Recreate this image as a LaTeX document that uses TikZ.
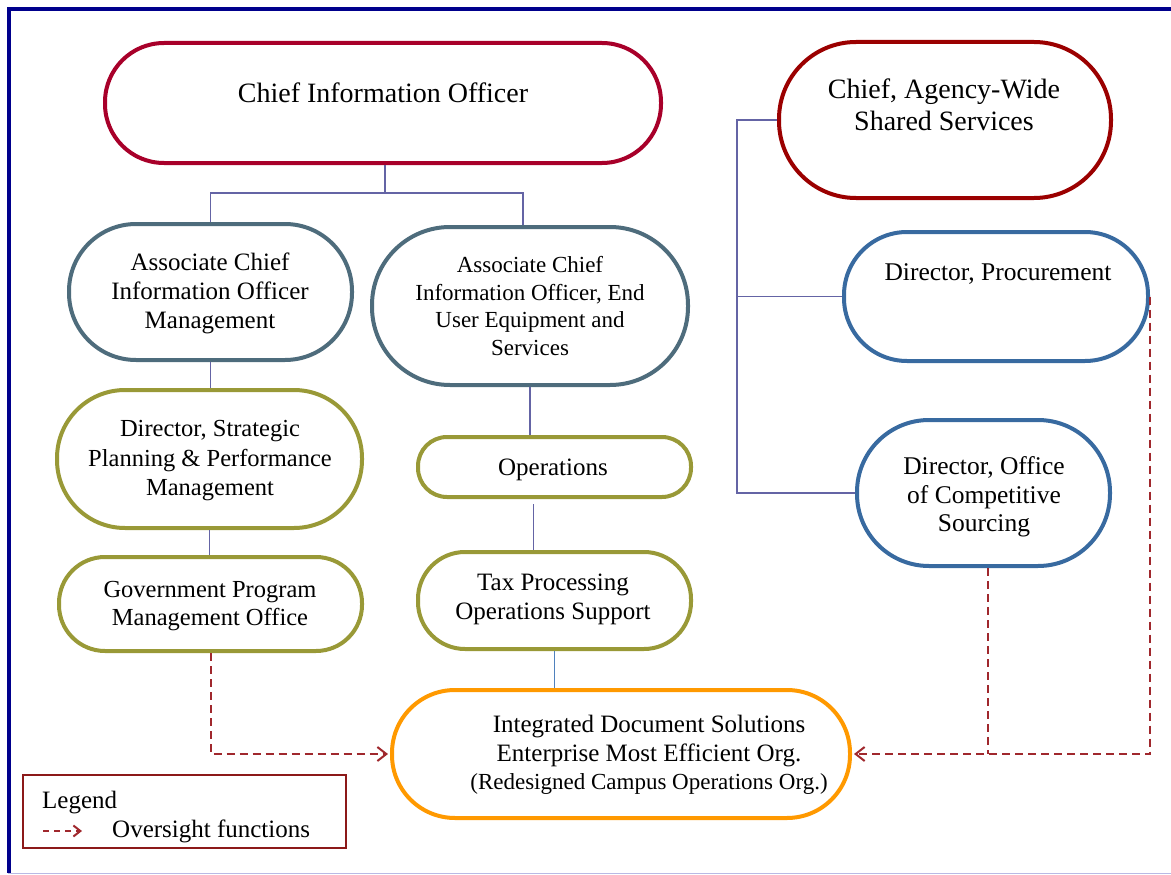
\documentclass[tikz,border=0pt]{standalone}
\usepackage{fontspec}
\setmainfont{Liberation Serif}
\usepackage{graphicx}
\usetikzlibrary{arrows.meta}

\definecolor{frameNavy}{RGB}{0,0,140}
\definecolor{frameLav}{RGB}{185,185,228}
\definecolor{cioRed}{RGB}{168,0,42}
\definecolor{awsRed}{RGB}{155,0,0}
\definecolor{slate}{RGB}{78,108,124}
\definecolor{olive}{RGB}{153,153,55}
\definecolor{steel}{RGB}{56,106,160}
\definecolor{amber}{RGB}{255,153,0}
\definecolor{connLine}{RGB}{100,100,165}
\definecolor{connBlue}{RGB}{79,129,189}
\definecolor{ovsRed}{RGB}{160,40,45}
\definecolor{legRed}{RGB}{140,25,25}

\newcommand\fsz[2]{\fontsize{#1}{#2}\selectfont}

\begin{document}
\begin{tikzpicture}[x=1pt,y=-1pt,
  box/.style={draw=#1, line width=4pt, fill=white, inner sep=0pt},
  lbl/.style={align=center, inner sep=0pt, text=black},
  conn/.style={draw=connLine, line width=1.3pt},
  ovs/.style={draw=ovsRed, line width=2pt, dash pattern=on 8pt off 5pt},
  ovsarrow/.style={ovs, -{Straight Barb[length=9pt,width=14pt,line width=2pt]}, shorten >=2pt},
]
\useasboundingbox (0,0) rectangle (1171,875);

% page frame
\draw[frameNavy, line width=3.5pt] (9,873) -- (9,9) -- (1171,9);
\draw[frameLav, line width=1.5pt] (8,873.5) -- (1171,873.5);

% coordinates for the connector branches
\coordinate (j1) at (385,193);
\coordinate (spine) at (737,0);

% boxes
\node[box=cioRed, minimum width=556pt, minimum height=120pt, rounded corners=59pt] (cio) at (383,103) {};
\node[box=awsRed, minimum width=332pt, minimum height=156pt, rounded corners=77pt] (aws) at (945,120) {};
\node[box=slate, minimum width=283pt, minimum height=136pt, rounded corners=67pt] (acm) at (210.5,292) {};
\node[box=slate, minimum width=316pt, minimum height=158pt, rounded corners=78pt] (ace) at (530,306) {};
\node[box=olive, minimum width=305pt, minimum height=138pt, rounded corners=68pt] (dsp) at (209.5,459) {};
\node[box=olive, minimum width=303pt, minimum height=94pt, rounded corners=46pt] (gpm) at (210.5,604) {};
\node[box=olive, minimum width=273pt, minimum height=60pt, rounded corners=29pt] (ops) at (554.5,467) {};
\node[box=olive, minimum width=273pt, minimum height=97pt, rounded corners=47pt] (tax) at (554.5,600.5) {};
\node[box=amber, minimum width=458pt, minimum height=128pt, rounded corners=63pt] (ids) at (621,754) {};
\node[box=steel, minimum width=304pt, minimum height=129pt, rounded corners=63pt] (proc) at (996,296.5) {};
\node[box=steel, minimum width=253pt, minimum height=146pt, rounded corners=72pt] (comp) at (983.5,493) {};

% reporting lines
\draw[conn] (cio.south -| j1) -- (j1);
\draw[conn] (acm.north) |- (j1) -| ([xshift=-7pt]ace.north);
\draw[conn] (acm.south) -- (acm.south |- dsp.north);
\draw[conn] (dsp.south) -- (dsp.south |- gpm.north);
\draw[conn] (ace.south) -- (ace.south |- ops.north);
\draw[conn, shorten <=5pt] ([xshift=-21pt]ops.south) -- ([xshift=-21pt]tax.north);
\draw[draw=connBlue, line width=1.3pt] (tax.south) -- (tax.south |- ids.north);
\draw[conn] (aws.west) -- (aws.west -| spine) -- (spine |- comp.west) -- (comp.west);
\draw[conn] (spine |- proc.west) -- (proc.west);

% oversight lines
\draw[ovsarrow] (gpm.south) |- (ids.west);
\draw[ovsarrow] (proc.east) |- (ids.east);
\draw[ovs] ([xshift=4pt]comp.south) -- ([xshift=4pt]comp.south |- ids.east);

% box texts
\node[lbl, font=\fsz{28}{32}] (cio-t) at (383,93) {Chief Information Officer};
\node[lbl, font=\fsz{28}{32}] (aws-t) at (944,105) {Chief, Agency-Wide\\Shared Services};
\node[lbl, font=\fsz{25}{29}] (acm-t) at (210,293) {Associate Chief\\Information Officer\\Management};
\node[lbl, font=\fsz{23}{27.5}] (ace-t) at (530,306) {Associate Chief\\Information Officer, End\\User Equipment and\\Services};
\node[lbl, font=\fsz{24.5}{29.5}] (dsp-t) at (210,461) {Director, Strategic\\Planning \& Performance\\Management};
\node[lbl, font=\fsz{24.5}{28}] (gpm-t) at (210,606) {Government Program\\Management Office};
\node[lbl, font=\fsz{25}{29}] (ops-t) at (553,470) {Operations};
\node[lbl, font=\fsz{25}{29}] (tax-t) at (553,599) {Tax Processing\\Operations Support};
\node[lbl, font=\fsz{25}{28.5}] (ids-t) at (649,755) {Integrated Document Solutions\\Enterprise Most Efficient Org.\\{\fsz{23}{28.5}(Redesigned Campus Operations Org.)}};
\node[lbl, font=\fsz{25.5}{29}] (proc-t) at (998,274) {Director, Procurement};
\node[lbl, font=\fsz{25.5}{28.5}] (comp-t) at (984,497) {Director, Office\\of Competitive\\Sourcing};

% legend
\node[draw=legRed, line width=2.2pt, minimum width=323pt, minimum height=73pt, inner sep=0pt] (leg) at (184.5,811.5) {};
\node[anchor=base west, inner sep=0pt, font=\fsz{25}{29}] (leg-t) at (42,808) {Legend};
\coordinate (ka) at (43,831);
\coordinate (kb) at (82,831);
\draw[ovs, dash pattern=on 6pt off 5pt, -{Straight Barb[length=7pt,width=11pt,line width=2pt]}] (ka) -- (kb);
\node[anchor=base west, inner sep=0pt, font=\fsz{25}{29}] (leg-o) at (112,837) {Oversight functions};
\end{tikzpicture}
\end{document}
